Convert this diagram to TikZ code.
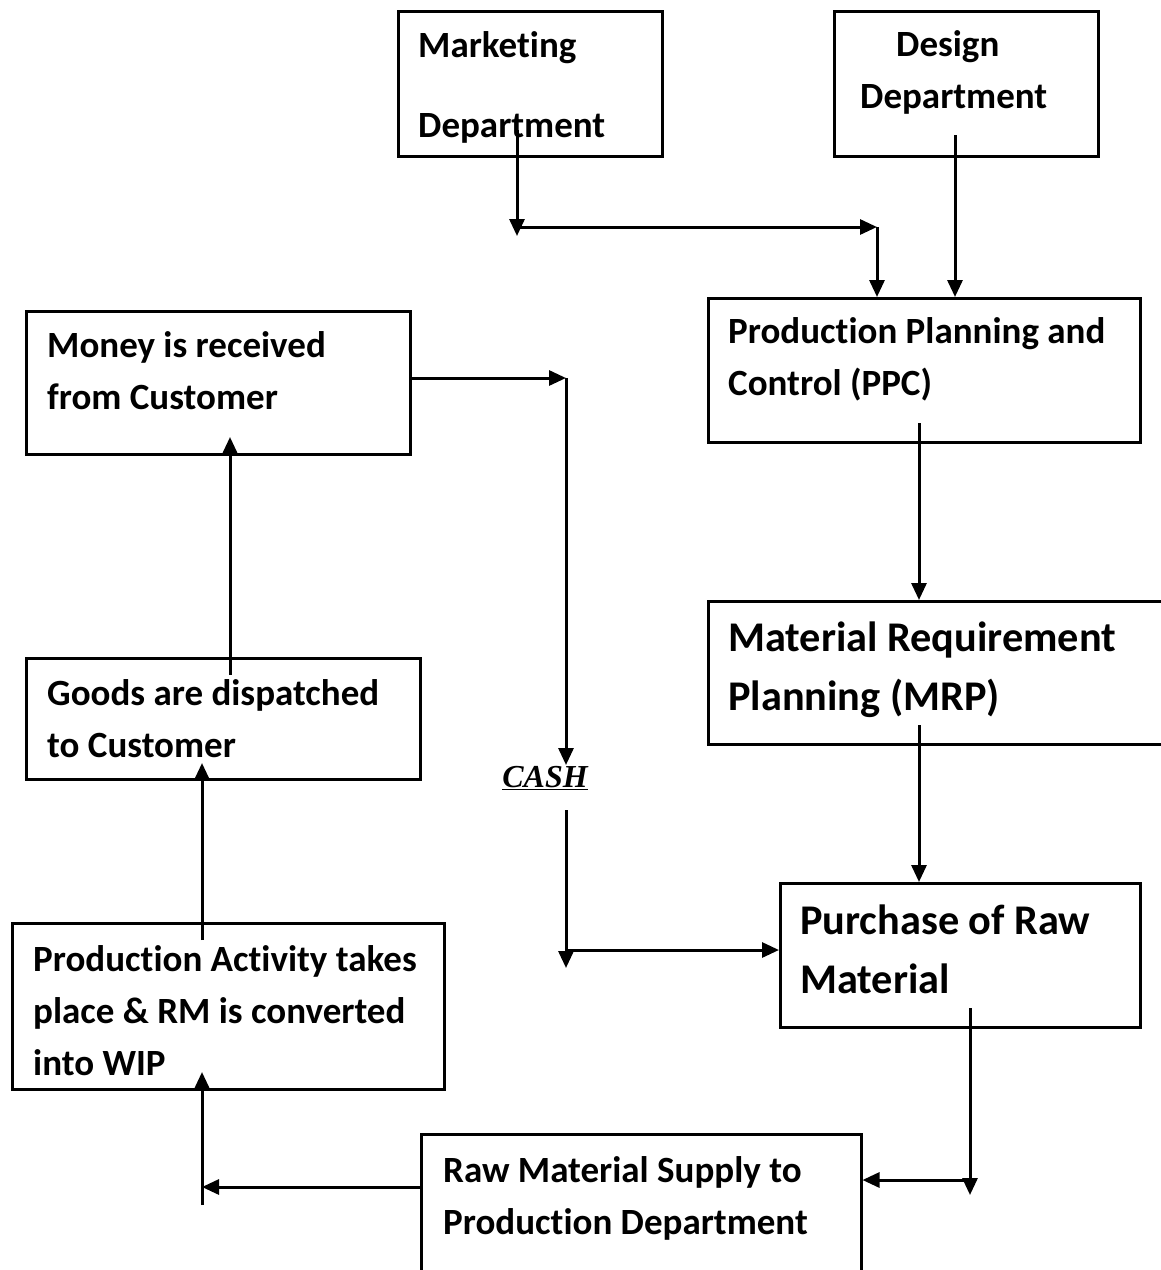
\documentclass[tikz,border=0pt]{standalone}
\usepackage{fontspec}
\setmainfont{Carlito}[Ligatures=NoCommon]
\newfontfamily\cashfont{Liberation Serif}
\usetikzlibrary{arrows.meta,positioning}

\tikzset{
  box/.style={draw, line width=2.5pt, anchor=north west, inner sep=0pt},
  txt/.style={anchor=base west, align=left, inner sep=0pt, font=\fontsize{37}{52}\selectfont\bfseries},
  bigtxt/.style={txt, font=\fontsize{42.3}{59}\selectfont\bfseries},
  arrow/.style={-{Triangle[length=17pt,width=15pt]}, line width=3pt}
}

\begin{document}
\begin{tikzpicture}[x=1pt,y=-1pt]
\useasboundingbox (0,0) rectangle (1161,1270);

% The boxes
\node[box, minimum width=264, minimum height=145] (mkt) at (397,10) {};
\node[box, minimum width=264, minimum height=145] (des) at (833,10) {};
\node[box, minimum width=432, minimum height=144] (ppc) at (707,297) {};
\node[box, minimum width=480, minimum height=143] (mrp) at (707,600) {};
\node[box, minimum width=360, minimum height=144] (pur) at (779,882) {};
\node[box, minimum width=440, minimum height=160] (raw) at (420,1133) {};
\node[box, minimum width=432, minimum height=166] (prod) at (11,922) {};
\node[box, minimum width=394, minimum height=121] (goods) at (25,657) {};
\node[box, minimum width=384, minimum height=143] (money) at (25,310) {};

% The texts (anchored at the last baseline)
\node[txt] (mkttxt) at (418,137) {Marketing\\[28pt]Department};
\node[txt] (destxt) at (860,108) {\hspace{36pt}Design\\Department};
\node[txt] (ppctxt) at (728,395) {Production Planning and\\Control (PPC)};
\node[bigtxt] (mrptxt) at (728,710) {Material Requirement\\Planning (MRP)};
\node[bigtxt] (purtxt) at (800,993) {Purchase of Raw\\Material};
\node[txt] (rawtxt) at (443,1234) {Raw Material Supply to\\Production Department};
\node[txt] (prodtxt) at (33,1075) {Production Activity takes\\place \& RM is converted\\into WIP};
\node[txt] (goodstxt) at (47,757) {Goods are dispatched\\to Customer};
\node[txt] (moneytxt) at (47,409) {Money is received\\from Customer};
\node[inner sep=0pt, font=\cashfont\fontsize{32}{36}\selectfont\bfseries\itshape] (cash) at (545,778) {\underline{CASH}};

% Junctions and free ends
\coordinate (mktout) at (517,130);
\coordinate (mktend) at (517,236);
\coordinate (j1) at (517,227);
\coordinate (j2) at (877,227);
\coordinate (desout) at (955,135);
\coordinate (ppcout) at (919,423);
\coordinate (mrpout) at (919,725);
\coordinate (purout) at (970,1008);
\coordinate (purend) at (970,1195);
\coordinate (j3) at (970,1180);
\coordinate (j4) at (202,1187);
\coordinate (prodin) at (202,1205);
\coordinate (prodend) at (202,1072);
\coordinate (prodout) at (202,940);
\coordinate (goodsend) at (202,763);
\coordinate (goodsout) at (230,675);
\coordinate (moneyend) at (230,437);
\coordinate (j5) at (566,378);
\coordinate (cashend) at (566,765);
\coordinate (cashout) at (566,810);
\coordinate (cashtip) at (566,968);
\coordinate (j6) at (566,950);

% Top flow
\draw[arrow] (mktout) -- (mktend);
\draw[arrow] (j1) -- (j2);
\draw[arrow] (j2) -- (j2 |- ppc.north);
\draw[arrow] (desout) -- (desout |- ppc.north);

% Right column
\draw[arrow] (ppcout) -- (ppcout |- mrp.north);
\draw[arrow] (mrpout) -- (mrpout |- pur.north);
\draw[arrow] (purout) -- (purend);
\draw[arrow] (j3) -- (j3 -| raw.east);

% Left column
\draw[arrow] (j4 -| raw.west) -- (j4);
\draw[arrow] (prodin) -- (prodend);
\draw[arrow] (prodout) -- (goodsend);
\draw[arrow] (goodsout) -- (moneyend);

% Cash loop
\draw[arrow] (money.east |- j5) -- (j5);
\draw[arrow] (j5) -- (cashend);
\draw[arrow] (cashout) -- (cashtip);
\draw[arrow] (j6) -- (j6 -| pur.west);

\end{tikzpicture}
\end{document}
